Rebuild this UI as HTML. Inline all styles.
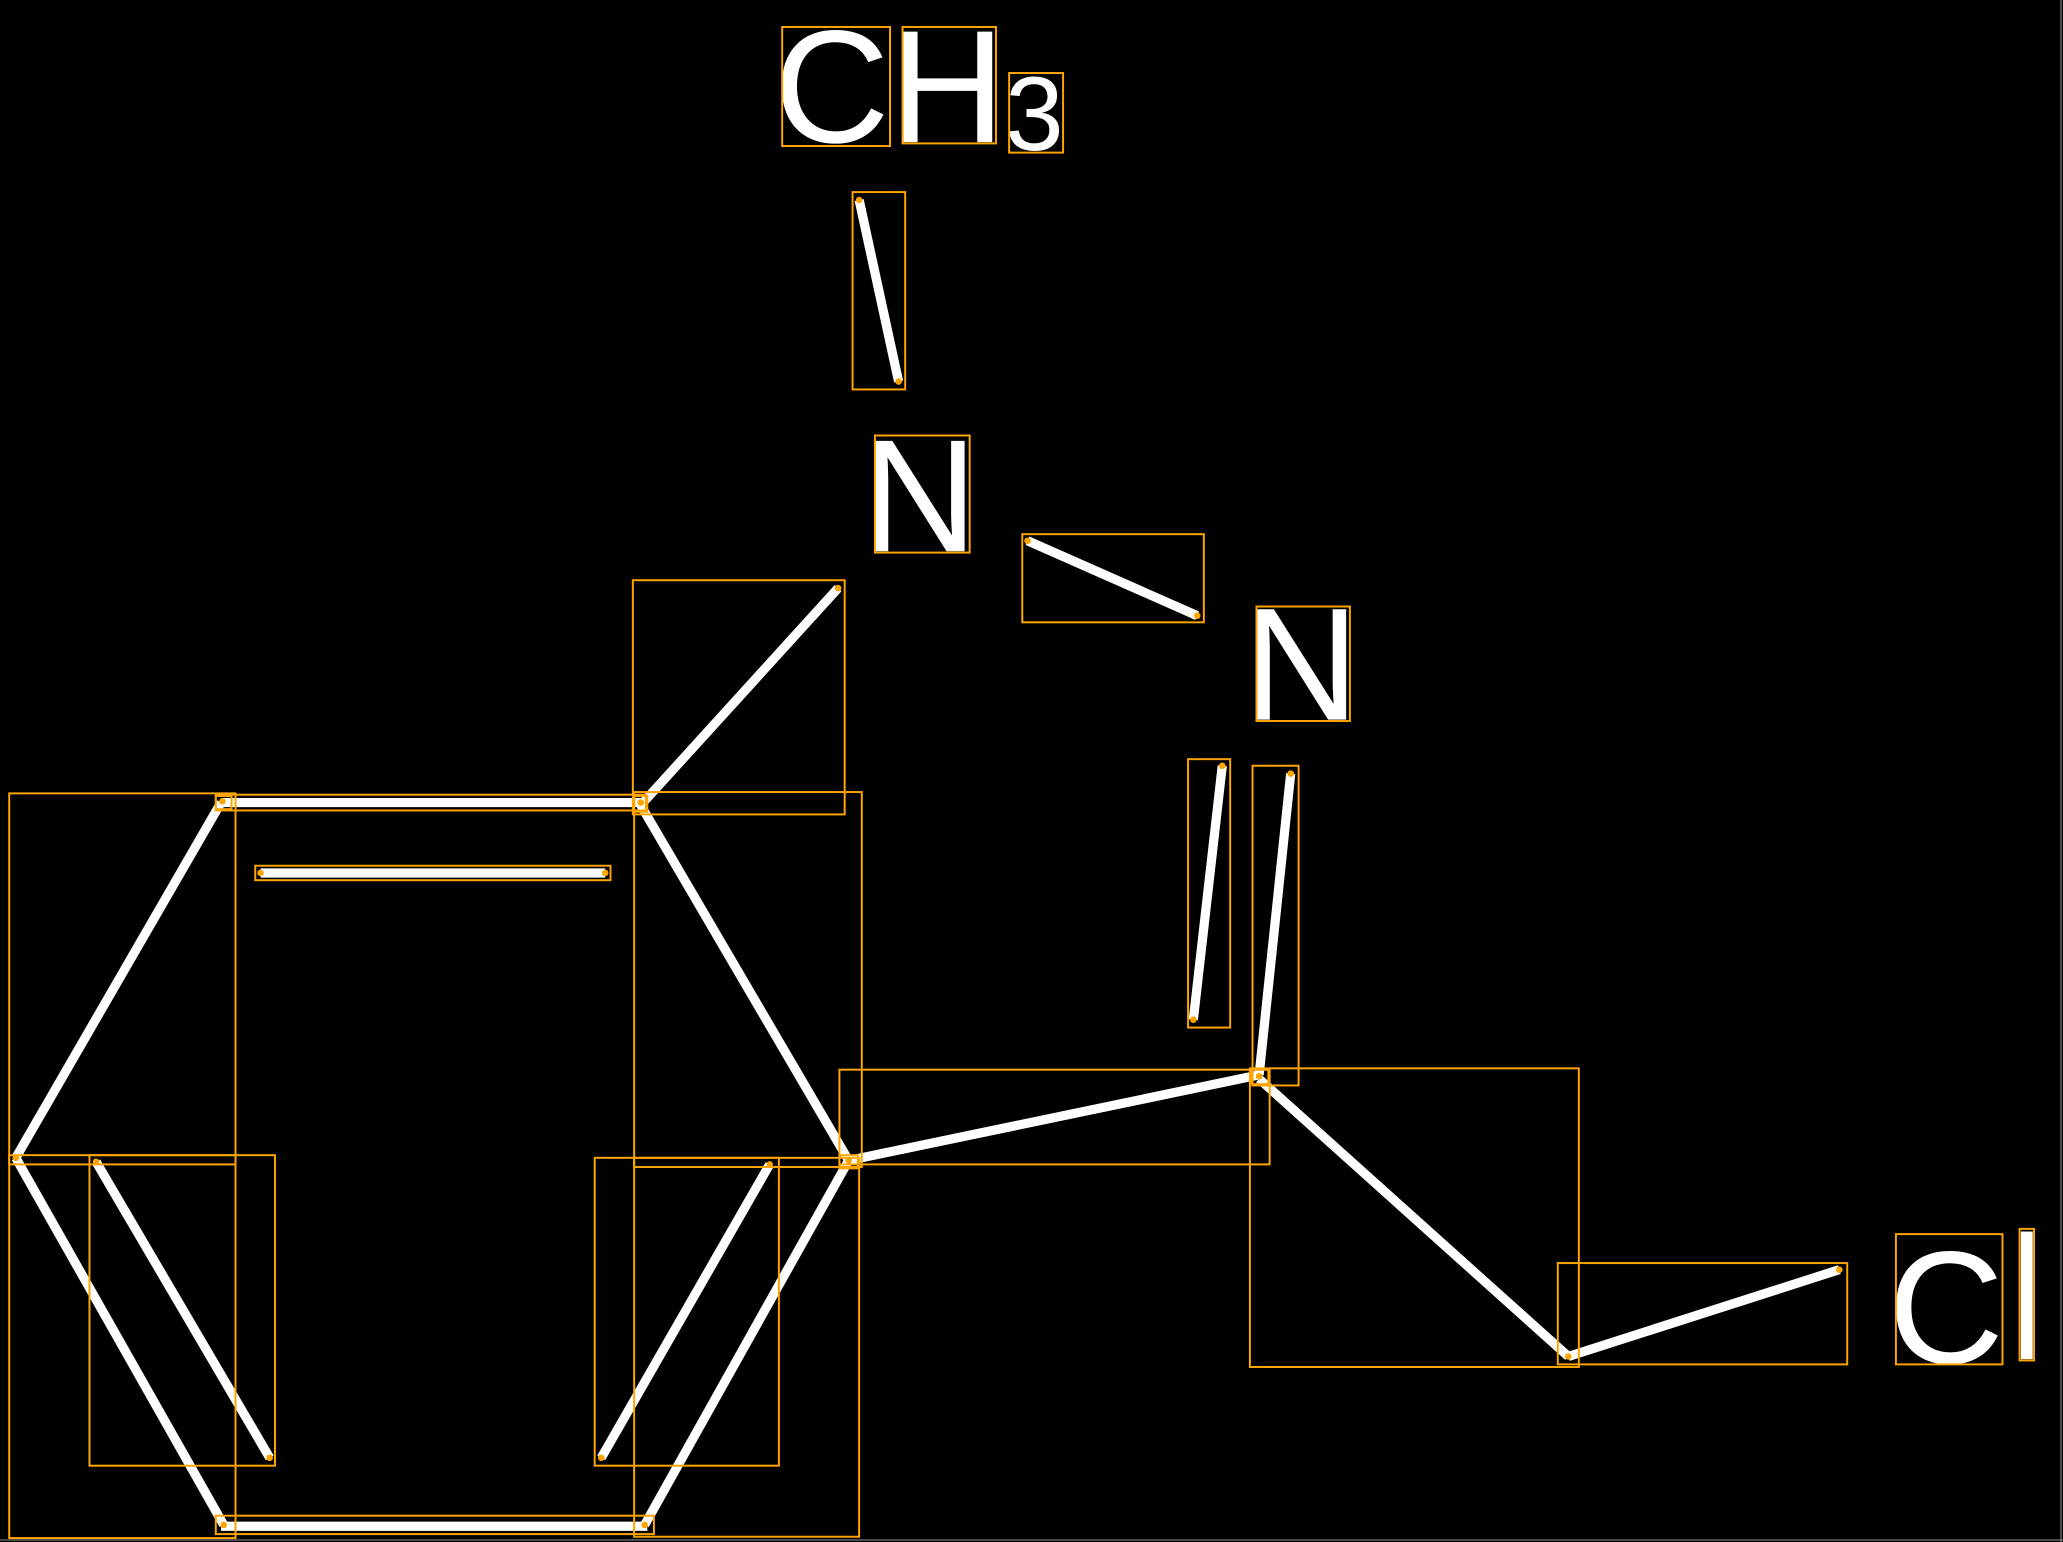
<!DOCTYPE html>
<html><head><meta charset="utf-8">
<style>
html,body{margin:0;padding:0;background:#000;}
svg{display:block;}
text{font-family:"Liberation Sans",sans-serif;fill:#fff;}
</style></head>
<body>
<svg width="2063" height="1542" viewBox="0 0 1568 1172" preserveAspectRatio="none" xmlns="http://www.w3.org/2000/svg">
<rect x="0" y="0" width="1568" height="1172" fill="#000"/>
<line x1="1566.5" y1="0" x2="1566.5" y2="1172" stroke="#777" stroke-width="1"/>
<line x1="0" y1="1170.5" x2="1568" y2="1170.5" stroke="#777" stroke-width="1"/>
<g stroke="#fff" stroke-width="7" stroke-linecap="butt">
<line x1="653" y1="152" x2="683" y2="290"/>
<line x1="781" y1="411" x2="910" y2="468"/>
<line x1="637" y1="447" x2="487" y2="612"/>
<line x1="168" y1="610" x2="487" y2="610"/>
<line x1="198" y1="663.5" x2="460" y2="663.5"/>
<line x1="168" y1="610" x2="12" y2="880"/>
<line x1="12" y1="880" x2="170" y2="1159"/>
<line x1="73" y1="883" x2="205" y2="1108"/>
<line x1="168" y1="1160" x2="492" y2="1160"/>
<line x1="487" y1="612" x2="645" y2="882"/>
<line x1="645" y1="882" x2="490" y2="1159"/>
<line x1="585" y1="885" x2="457" y2="1108"/>
<line x1="645" y1="882" x2="957" y2="817"/>
<line x1="929" y1="582" x2="907" y2="775"/>
<line x1="981" y1="588" x2="957" y2="817"/>
<line x1="957" y1="820" x2="1192" y2="1031"/>
<line x1="1192" y1="1031" x2="1398" y2="965"/>
</g>
<text x="588" y="108" font-size="122">C</text>
<text x="676" y="108" font-size="122">H</text>
<text x="764" y="114" font-size="80">3</text>
<text x="655" y="419" font-size="122">N</text>
<text x="945" y="547" font-size="122">N</text>
<text x="1435" y="1036" font-size="122">C</text>
<rect x="1536" y="936" width="9" height="97" fill="#fff"/>
<g fill="none" stroke="#ffa500" stroke-width="1.5">
<rect x="594.5" y="20.5" width="82" height="90.5"/>
<rect x="686" y="20.5" width="71" height="88.5"/>
<rect x="767" y="55.5" width="41" height="60.5"/>
<rect x="648" y="146" width="40" height="150"/>
<rect x="665" y="331" width="72" height="89"/>
<rect x="777" y="406" width="138" height="67"/>
<rect x="955" y="461" width="71" height="87"/>
<rect x="481" y="441" width="161" height="178"/>
<rect x="164" y="604" width="327" height="12"/>
<rect x="194" y="658" width="270" height="11"/>
<rect x="7" y="603" width="172" height="282"/>
<rect x="7" y="878" width="172" height="291"/>
<rect x="68" y="878" width="141" height="236"/>
<rect x="164" y="1152" width="333" height="14"/>
<rect x="482" y="602" width="173" height="285"/>
<rect x="482" y="880" width="171" height="288"/>
<rect x="452" y="880" width="140" height="234"/>
<rect x="638" y="813" width="327" height="72"/>
<rect x="903" y="577" width="32" height="204"/>
<rect x="952" y="582" width="35" height="243"/>
<rect x="950" y="812" width="250" height="227"/>
<rect x="1184" y="960" width="220" height="77"/>
<rect x="1441" y="938" width="81" height="99"/>
<rect x="1535" y="934" width="11" height="100"/>
<rect x="638" y="878" width="14" height="10"/>
<rect x="951" y="813" width="13" height="11"/>
<rect x="164" y="605" width="12" height="10"/>
<rect x="482" y="605" width="10" height="12"/>
</g>
<g fill="#ffa500">
<circle cx="653" cy="152" r="2.5"/><circle cx="683" cy="290" r="2.5"/>
<circle cx="781" cy="411" r="2.5"/><circle cx="910" cy="468" r="2.5"/>
<circle cx="637" cy="447" r="2.5"/><circle cx="487" cy="610" r="2.5"/>
<circle cx="169" cy="609" r="2.5"/>
<circle cx="198" cy="663.5" r="2.5"/><circle cx="460" cy="663.5" r="2.5"/>
<circle cx="12" cy="880" r="2.5"/>
<circle cx="73" cy="883" r="2.5"/><circle cx="205" cy="1108" r="2.5"/>
<circle cx="170" cy="1159" r="2.5"/><circle cx="490" cy="1159" r="2.5"/>
<circle cx="645" cy="882" r="2.5"/>
<circle cx="585" cy="885" r="2.5"/><circle cx="457" cy="1108" r="2.5"/>
<circle cx="957" cy="818" r="2.5"/>
<circle cx="929" cy="582" r="2.5"/><circle cx="907" cy="775" r="2.5"/>
<circle cx="981" cy="588" r="2.5"/>
<circle cx="1192" cy="1031" r="2.5"/><circle cx="1398" cy="965" r="2.5"/>
</g>
</svg>
</body></html>
